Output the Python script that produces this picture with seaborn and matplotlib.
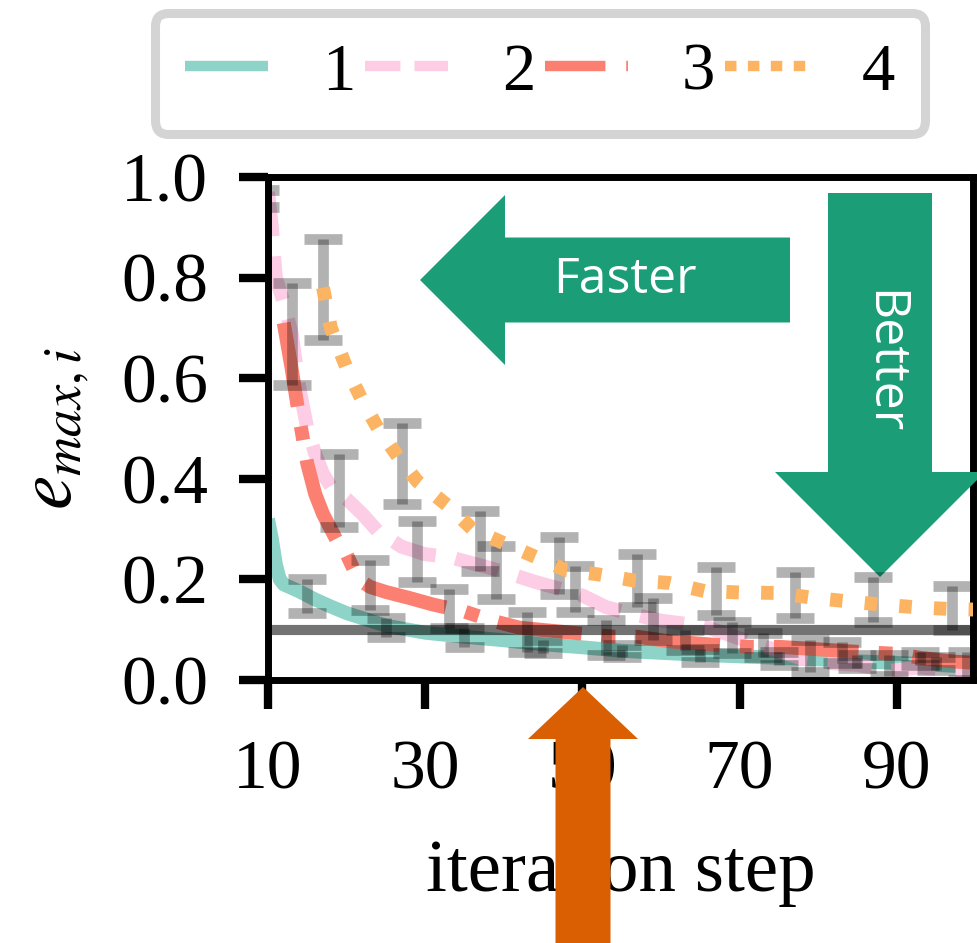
import matplotlib
matplotlib.use("Agg")
import numpy as np
import pandas as pd
import seaborn as sns
import matplotlib.pyplot as plt
from matplotlib.patches import FancyArrow
from matplotlib.lines import Line2D
from matplotlib.transforms import IdentityTransform
from matplotlib.ticker import FormatStrFormatter

# ---------------- data ----------------
labels = ["1", "2", "3", "4"]
colors = ["#8dd3c7", "#fccde5", "#fb8072", "#fdb462"]

s1_x = [10, 10.5, 11, 11.5, 12, 14, 16, 18, 20, 25, 30, 35, 40, 45, 50, 55, 60, 65, 70, 75, 80, 85, 90, 95, 100]
s1_y = [0.32, 0.28, 0.23, 0.20, 0.19, 0.176, 0.16, 0.146, 0.133, 0.108, 0.094, 0.086, 0.079, 0.071, 0.065,
        0.058, 0.054, 0.050, 0.047, 0.044, 0.041, 0.037, 0.034, 0.030, 0.026]

s2_x = [10, 10.5, 11, 12, 13, 14, 15, 16, 17, 18, 20, 22, 24, 27, 30, 33, 36, 38, 41, 44, 47, 50, 53, 56,
        60, 63, 66, 69, 72, 75, 78, 81, 85, 89, 93, 96, 100]
s2_y = [0.97, 0.90, 0.80, 0.75, 0.69, 0.58, 0.50, 0.45, 0.41, 0.385, 0.36, 0.33, 0.295, 0.265, 0.25, 0.245,
        0.232, 0.224, 0.21, 0.195, 0.182, 0.168, 0.145, 0.132, 0.118, 0.112, 0.104, 0.088, 0.072, 0.058,
        0.042, 0.034, 0.030, 0.018, 0.025, 0.020, 0.014]

s3_x = [12, 13, 14, 15, 16, 17, 18, 19, 20, 21.5, 23, 25, 28, 31, 35, 38.5, 42, 46, 50, 54, 57, 61, 66,
        71, 75, 80, 85, 90, 93, 97, 100]
s3_y = [0.71, 0.62, 0.52, 0.43, 0.37, 0.33, 0.30, 0.27, 0.25, 0.20, 0.185, 0.175, 0.163, 0.15, 0.136,
        0.118, 0.104, 0.098, 0.092, 0.086, 0.086, 0.077, 0.071, 0.066, 0.066, 0.061, 0.056, 0.052,
        0.044, 0.037, 0.034]

s4_x = [17, 18, 20, 22, 24, 26.5, 29, 33, 36, 40, 44, 48, 52, 56.5, 61, 65.5, 70, 75, 79, 84, 88, 93, 97, 100]
s4_y = [0.78, 0.70, 0.62, 0.555, 0.50, 0.445, 0.395, 0.345, 0.30, 0.272, 0.245, 0.218, 0.21, 0.198,
        0.193, 0.177, 0.174, 0.173, 0.164, 0.156, 0.15, 0.144, 0.141, 0.14]

# error bars (x, low, high)
e1_x = [15, 25, 35, 45, 55, 65, 75, 85, 95]
e1_lo = [0.134, 0.086, 0.066, 0.054, 0.046, 0.036, 0.030, 0.024, 0.020]
e1_hi = [0.200, 0.124, 0.104, 0.080, 0.070, 0.062, 0.056, 0.050, 0.045]

e2_x = [9, 19, 29, 39, 49, 59, 69, 79, 89, 99]
e2_lo = [0.94, 0.304, 0.194, 0.162, 0.136, 0.080, 0.054, 0.016, 0.008, 0.0]
e2_hi = [0.975, 0.450, 0.316, 0.266, 0.226, 0.164, 0.116, 0.080, 0.050, 0.055]

e3_x = [13, 23, 33, 43, 53, 63, 73, 83, 93]
e3_lo = [0.586, 0.140, 0.104, 0.056, 0.050, 0.060, 0.046, 0.034, 0.030]
e3_hi = [0.790, 0.238, 0.180, 0.136, 0.120, 0.100, 0.094, 0.076, 0.056]

e4_x = [17, 27, 37, 47, 57, 67, 77, 87, 97]
e4_lo = [0.676, 0.350, 0.216, 0.170, 0.146, 0.130, 0.124, 0.116, 0.100]
e4_hi = [0.876, 0.510, 0.336, 0.284, 0.250, 0.224, 0.214, 0.204, 0.186]

threshold = 0.1
x_ticks = [10, 30, 50, 70, 90]
y_ticks = [0.0, 0.2, 0.4, 0.6, 0.8, 1.0]

# ---------------- style ----------------
sns.set_style("ticks")
plt.rcParams["font.family"] = ["Liberation Serif", "DejaVu Serif"]
plt.rcParams["mathtext.fontset"] = "stix"
plt.rcParams["text.color"] = "black"
plt.rcParams["axes.labelcolor"] = "black"
plt.rcParams["xtick.color"] = "black"
plt.rcParams["ytick.color"] = "black"

W, H = 977, 943
fig = plt.figure(figsize=(W / 100, H / 100), dpi=100)
ax = fig.add_axes([268 / W, 1 - 680 / H, (973 - 268) / W, (680 - 177) / H])

LW = 10.0
plot_dashes = [None, (3.2, 1.45), (6.1, 1.45, 1.0, 1.45), (0.9, 1.6)]
line_z = [2, 2.1, 2.2, 3.5]
xs = [s1_x, s2_x, s3_x, s4_x]
ys = [s1_y, s2_y, s3_y, s4_y]

for x, y, c, d, z in zip(xs, ys, colors, plot_dashes, line_z):
    df = pd.DataFrame({"x": x, "y": y})
    sns.lineplot(data=df, x="x", y="y", ax=ax, color=c, zorder=z,
                 legend=False, estimator=None, sort=True)
    ln = ax.get_lines()[-1]
    ln.set_linewidth(LW)
    ln.set_zorder(z)
    ln.set_solid_capstyle("butt")
    ln.set_dash_capstyle("butt")
    if d is not None:
        ln.set_dashes(d)

ax.axhline(threshold, color="k", alpha=0.55, lw=7.3, zorder=2.5)

CAP_HALF = 2.42   # cap half-width in iteration steps
for ex, lo, hi in [(e1_x, e1_lo, e1_hi), (e2_x, e2_lo, e2_hi),
                   (e3_x, e3_lo, e3_hi), (e4_x, e4_lo, e4_hi)]:
    ex = np.array(ex, dtype=float)
    lo = np.array(lo); hi = np.array(hi)
    ax.vlines(ex, lo, hi, colors="k", alpha=0.3, linewidth=7.7, zorder=3,
              capstyle="butt")
    ax.hlines(np.concatenate([lo, hi]), np.concatenate([ex, ex]) - CAP_HALF,
              np.concatenate([ex, ex]) + CAP_HALF, colors="k", alpha=0.3,
              linewidth=7.7, zorder=3, capstyle="butt")

ax.set_xlim(10, 99.7)
ax.set_ylim(0, 1)
ax.set_xticks(x_ticks)
ax.set_yticks(y_ticks)
ax.yaxis.set_major_formatter(FormatStrFormatter("%.1f"))
ax.tick_params(axis="both", direction="out", length=21, width=6, pad=22,
               labelsize=50, colors="k", labelcolor="k")
for s in ax.spines.values():
    s.set_linewidth(5)
    s.set_color("k")
ax.set_xlabel("iteration step", fontsize=54, labelpad=26, color="k")
ax.set_ylabel(r"$e_{max,i}$", fontsize=56, labelpad=22, color="k")

# ---------------- annotations ----------------
green = "#1b9e77"
idt = IdentityTransform()
a1 = FancyArrow(790, H - 280, -370, 0, width=85, head_width=170, head_length=85,
                length_includes_head=True, color=green, lw=0,
                transform=idt, clip_on=False, zorder=2.8)
ax.add_patch(a1)
a2 = FancyArrow(880, H - 193, 0, -(577 - 193), width=104, head_width=210, head_length=105,
                length_includes_head=True, color=green, lw=0,
                transform=idt, clip_on=False, zorder=2.8)
ax.add_patch(a2)
ax.text(625, H - 280, "Faster", transform=idt, color="white", fontsize=36,
        family=["Open Sans", "DejaVu Sans"], ha="center", va="center", zorder=2.9)
ax.text(883, H - 362, "Better", transform=idt, color="white", fontsize=36,
        family=["Open Sans", "DejaVu Sans"], ha="center", va="center",
        rotation=-90, zorder=2.9)
ax.set_xlim(10, 99.7)
ax.set_ylim(0, 1)

a3 = FancyArrow(583, -20, 0, (H - 687) + 20, width=55, head_width=110, head_length=52,
                length_includes_head=True, color="#d95f02", lw=0,
                transform=idt, zorder=10)
fig.add_artist(a3)

# ---------------- legend ----------------
LEG_LW = 7.5
leg_dashes = [None, (3.4, 1.35), (5.8, 2.0, 1.0, 2.0), (1.1, 1.1)]
handles = []
for c, d in zip(colors, leg_dashes):
    h = Line2D([], [], color=c, lw=LEG_LW, solid_capstyle="butt", dash_capstyle="butt")
    if d is not None:
        h.set_dashes(d)
    handles.append(h)
leg = fig.legend(handles, labels, loc="center", bbox_to_anchor=(540 / W, 1 - 73 / H),
                 ncol=4, fontsize=48, handlelength=1.25, handletextpad=0.8,
                 columnspacing=0.15, borderpad=0.45, frameon=True, fancybox=True,
                 edgecolor="#d4d4d4", facecolor="white", framealpha=1,
                 labelcolor="black")
leg.get_frame().set_linewidth(6.5)

fig.savefig("out.png", dpi=100)
